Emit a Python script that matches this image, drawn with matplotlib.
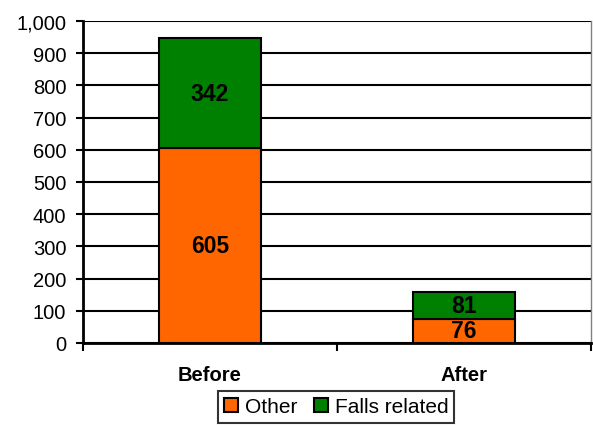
import matplotlib.pyplot as plt
import numpy as np

plt.rcParams['font.family'] = ['Liberation Sans', 'DejaVu Sans']

# data
categories = ["Before", "After"]
other = [605, 76]
falls = [342, 81]
series_names = ["Other", "Falls related"]
col_other = "#FF6600"
col_falls = "#008000"

fig = plt.figure(figsize=(5.93, 4.27), dpi=100)
ax = fig.add_axes([83 / 593, 1 - 344 / 427, (591 - 83) / 593, (344 - 22) / 427])

x = np.arange(len(categories))
w = 0.4
b1 = ax.bar(x, other, w, color=col_other, edgecolor="black", linewidth=1.5,
            label=series_names[0], zorder=3)
b2 = ax.bar(x, falls, w, bottom=other, color=col_falls, edgecolor="black",
            linewidth=1.5, label=series_names[1], zorder=3)

for bars, vals, bots in [(b1, other, [0, 0]), (b2, falls, other)]:
    for r, v, b in zip(bars, vals, bots):
        ax.text(r.get_x() + r.get_width() / 2, b + v / 2, str(v),
                ha="center", va="center", fontsize=16.5, fontweight="bold", zorder=4)

ax.set_xlim(-0.5, 1.5)
ax.set_ylim(0, 1000)
yt = np.arange(0, 1001, 100)
ax.set_yticks(yt)
ax.set_yticklabels([f"{v:,}" for v in yt], fontsize=14.5)
ax.yaxis.grid(True, color="black", linewidth=1.5, zorder=0)

# category ticks between groups
ax.set_xticks([-0.5, 0.5, 1.5])
ax.set_xticklabels([])
ax.tick_params(axis="x", direction="out", length=6, width=1.5)
ax.tick_params(axis="y", direction="out", length=5, width=1.5, pad=7)
for i, c in enumerate(categories):
    ax.text(i, -99, c, ha="center", va="center", fontsize=14.5,
            fontweight="bold", transform=ax.transData)

ax.spines["left"].set_linewidth(2)
ax.spines["bottom"].set_linewidth(2)
ax.spines["top"].set_visible(False)
ax.spines["right"].set_color("#808080")
ax.spines["right"].set_linewidth(1)

leg = fig.legend(handles=[b1, b2], loc="upper center", bbox_to_anchor=(336 / 593, 1 - 392 / 427),
                 ncol=2, fontsize=15, frameon=True, fancybox=False, edgecolor="black",
                 handlelength=0.7, handleheight=0.7, handletextpad=0.3, columnspacing=0.8,
                 borderpad=0.3, borderaxespad=0)
leg.get_frame().set_linewidth(1.5)

fig.savefig("out.png", dpi=100)
